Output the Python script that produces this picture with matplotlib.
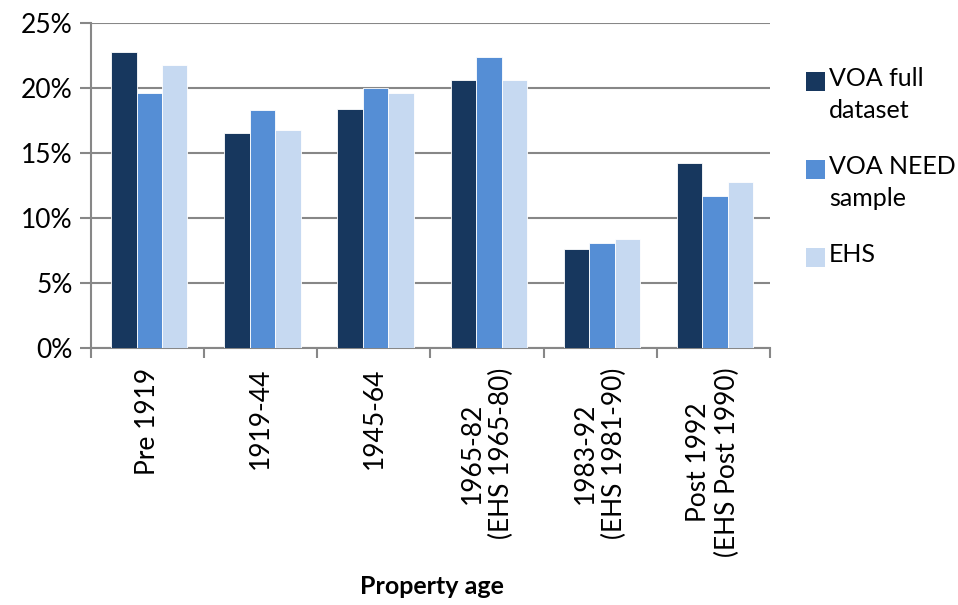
import numpy as np
import matplotlib.pyplot as plt
from matplotlib.ticker import PercentFormatter
from matplotlib.patches import Rectangle

plt.rcParams['font.family'] = ['Lato', 'DejaVu Sans']

categories = ["Pre 1919", "1919-44", "1945-64", "1965-82\n(EHS 1965-80)",
              "1983-92\n(EHS 1981-90)", "Post 1992\n(EHS Post 1990)"]
voa_full = [22.8, 16.5, 18.4, 20.6, 7.6, 14.2]
voa_need = [19.6, 18.3, 20.0, 22.4, 8.1, 11.7]
ehs = [21.8, 16.8, 19.6, 20.6, 8.4, 12.8]

series_names = ["VOA full\ndataset", "VOA NEED\nsample", "EHS"]
colors = ["#17375E", "#558ED5", "#C6D9F1"]

W, H = 958, 605
fig = plt.figure(figsize=(W / 100, H / 100), dpi=100)
ax = fig.add_axes([91 / W, 1 - 348 / H, (770 - 91) / W, (348 - 23) / H])

x = np.arange(len(categories))
bw = 0.225
for i, (vals, c) in enumerate(zip([voa_full, voa_need, ehs], colors)):
    ax.bar(x + (i - 1) * bw + 0.015, vals, bw, color=c, edgecolor='white', linewidth=0.6, zorder=3)

ax.set_xlim(-0.5, len(categories) - 0.5)
ax.set_ylim(0, 25)
ax.set_yticks(np.arange(0, 26, 5))
ax.yaxis.set_major_formatter(PercentFormatter(decimals=0))
ax.yaxis.grid(True, color='#878787', linewidth=1.5, zorder=0)

ax.set_xticks(x)
ax.set_xticklabels(categories, rotation=90, va='top', ha='center', multialignment='center')
ax.set_xticks(np.arange(-0.5, len(categories)), minor=True)
ax.tick_params(axis='x', which='major', length=0, pad=14, labelsize=19)
ax.tick_params(axis='x', which='minor', length=7, width=1.5, color='#878787')
ax.tick_params(axis='y', length=8, width=1.5, color='#878787', labelsize=19, pad=5)

for s in ['top', 'right']:
    ax.spines[s].set_visible(False)
for s in ['left', 'bottom']:
    ax.spines[s].set_color('#878787')
    ax.spines[s].set_linewidth(1.5)

# x axis title placed in figure pixels
fig.text(432 / W, 1 - 587 / H, "Property age", fontsize=18, fontweight='bold',
         ha='center', va='center')

# legend drawn by hand so the swatch lines up with the first text line
for i, (name, c) in enumerate(zip(series_names, colors)):
    top = 72 + i * 88
    fig.patches.append(Rectangle((806 / W, 1 - (top + 19) / H), 19 / W, 19 / H,
                                 transform=fig.transFigure, facecolor=c, edgecolor='none'))
    fig.text(829 / W, 1 - (top - 5) / H, name, fontsize=18, ha='left', va='top',
             linespacing=1.45)

fig.savefig("out.png", dpi=100)
